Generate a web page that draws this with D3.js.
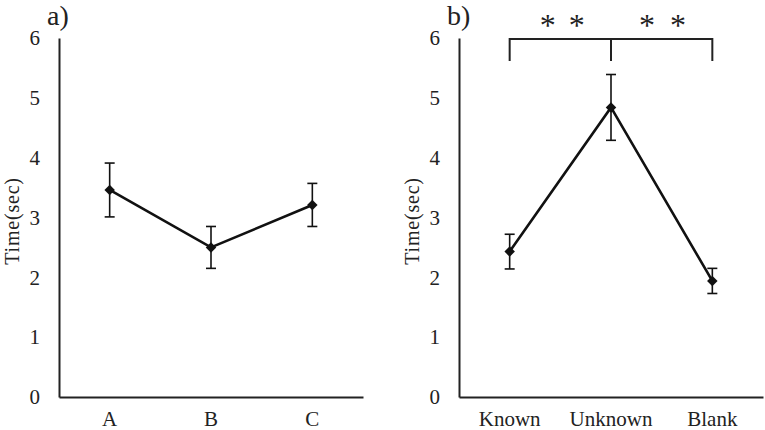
<!DOCTYPE html>
<html>
<head>
<meta charset="utf-8">
<script src="https://cdn.jsdelivr.net/npm/d3@7"></script>
<style>
  body { margin: 0; background: #fff; }
  svg { display: block; }
  text { font-family: "Liberation Serif", "Times New Roman", serif; fill: #222; }
</style>
</head>
<body>
<svg id="chart" width="765" height="430"></svg>
<script>
// panel a
var catsA = ['A', 'B', 'C'];
var meanA = [3.46, 2.50, 3.21];
var errA = [0.45, 0.35, 0.36];

// panel b
var catsB = ['Known', 'Unknown', 'Blank'];
var meanB = [2.43, 4.84, 1.94];
var errB = [0.29, 0.55, 0.21];

var yTicks = [0, 1, 2, 3, 4, 5, 6];
var sigMarks = ['*', '*', '*', '*'];

var svg = d3.select('#chart');

function drawPanel(left, tag, cats, means, errs)
{
  var width = 304;
  var top = 38, bottom = 397;

  var x = d3.scaleBand().domain(cats).range([left, left + width]);
  var y = d3.scaleLinear().domain([0, 6]).range([bottom, top]);
  var cx = d => x(d) + x.bandwidth() / 2;

  var g = svg.append('g');

  g.append('g')
    .attr('transform', 'translate(' + left + ',0)')
    .call(d3.axisLeft(y).tickValues(yTicks).tickFormat(d3.format('d')).tickSize(0).tickPadding(19))
    .call(a => a.select('.domain').attr('stroke', '#222').attr('stroke-width', 2))
    .selectAll('text')
    .attr('font-size', 21)
    .attr('font-family', '"Liberation Serif", serif')
    .attr('fill', '#333');

  g.append('g')
    .attr('transform', 'translate(0,' + bottom + ')')
    .call(d3.axisBottom(x).tickSize(0).tickPadding(14))
    .call(a => a.select('.domain').attr('stroke', '#222').attr('stroke-width', 2))
    .selectAll('text')
    .attr('font-size', 21)
    .attr('font-family', '"Liberation Serif", serif')
    .attr('fill', '#333');

  // y label
  g.append('text')
    .attr('transform', 'translate(' + (left - 40) + ',221) rotate(-90)')
    .attr('text-anchor', 'middle')
    .attr('font-size', 20)
    .attr('letter-spacing', 0.8)
    .attr('fill', '#333')
    .text('Time(sec)');

  // panel tag
  g.append('text')
    .attr('x', left - 12)
    .attr('y', 25)
    .attr('font-size', 28)
    .attr('fill', '#111')
    .text(tag);

  var pts = cats.map((c, i) => ({c: c, m: means[i], e: errs[i]}));

  // error bars
  var eb = g.selectAll('.eb').data(pts).enter().append('g').attr('class', 'eb')
    .attr('stroke', '#111').attr('stroke-width', 1.6);
  eb.append('line')
    .attr('x1', d => cx(d.c)).attr('x2', d => cx(d.c))
    .attr('y1', d => y(d.m + d.e)).attr('y2', d => y(d.m - d.e));
  eb.append('line')
    .attr('x1', d => cx(d.c) - 5).attr('x2', d => cx(d.c) + 5)
    .attr('y1', d => y(d.m + d.e)).attr('y2', d => y(d.m + d.e));
  eb.append('line')
    .attr('x1', d => cx(d.c) - 5).attr('x2', d => cx(d.c) + 5)
    .attr('y1', d => y(d.m - d.e)).attr('y2', d => y(d.m - d.e));

  // line
  g.append('path')
    .datum(pts)
    .attr('fill', 'none')
    .attr('stroke', '#111')
    .attr('stroke-width', 2.6)
    .attr('d', d3.line().x(d => cx(d.c)).y(d => y(d.m)));

  // markers
  g.selectAll('.mk').data(pts).enter().append('path')
    .attr('class', 'mk')
    .attr('transform', d => 'translate(' + cx(d.c) + ',' + y(d.m) + ')')
    .attr('d', d3.symbol().type(d3.symbolDiamond2).size(70))
    .attr('fill', '#111');

  return {x: x, y: y, cx: cx};
}

drawPanel(59, 'a)', catsA, meanA, errA);
var pb = drawPanel(459, 'b)', catsB, meanB, errB);

// significance bracket on panel b
var bx = catsB.map(pb.cx);
var bTop = 39, bLow = 61;
svg.append('path')
  .attr('fill', 'none')
  .attr('stroke', '#222')
  .attr('stroke-width', 2)
  .attr('d', 'M' + bx[0] + ',' + bLow + 'V' + bTop + 'H' + bx[2] + 'V' + bLow +
             'M' + bx[1] + ',' + bTop + 'V' + bLow);

var starX = [bx[0] + 38, bx[0] + 67, bx[1] + 36, bx[1] + 67];
svg.selectAll('.star').data(sigMarks).enter().append('text')
  .attr('class', 'star')
  .attr('x', (d, i) => starX[i])
  .attr('y', 36)
  .attr('text-anchor', 'middle')
  .attr('font-size', 32)
  .attr('fill', '#222')
  .text(d => d);
</script>
</body>
</html>
